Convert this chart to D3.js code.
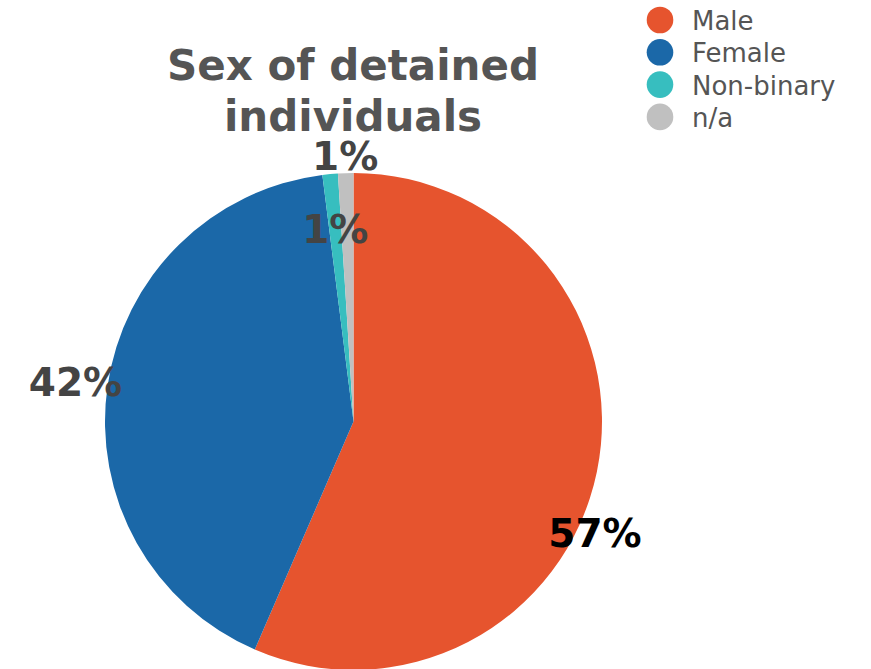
<!DOCTYPE html>
<html>
<head>
<meta charset="utf-8">
<script src="https://cdn.jsdelivr.net/npm/d3@7/dist/d3.min.js"></script>
<style>
  html, body { margin: 0; padding: 0; background: #fff; overflow: hidden; }
  svg { display: block; }
</style>
</head>
<body>
<svg id="chart" width="871" height="669"></svg>
<script>
// ---- data ----
const categories = ["Male", "Female", "Non-binary", "n/a"];
const values = [56.5, 41.5, 1.0, 1.0];
const labels = ["57%", "42%", "1%", "1%"];
const colors = ["#e6542e", "#1b68a8", "#37bebf", "#c0c0c0"];
const titleLines = ["Sex of detained", "individuals"];

// ---- layout ----
const W = 871, H = 669;
const cx = 353.5, cy = 421.5, R = 248.5;
// label placement: [fraction along slice angle, radius factor, colour]
const labelPlace = [
  [0.564, 1.07, "#000000"],
  [0.50, 1.13, "#444444"],
  [0.50, 0.78, "#444444"],
  [0.50, 1.07, "#444444"]
];

const svg = d3.select("#chart");

const pie = d3.pie().sort(null).value(d => d.v);
const arcs = pie(categories.map((c, i) => ({ c, v: values[i], i })));
const arc = d3.arc().innerRadius(0).outerRadius(R);

const g = svg.append("g").attr("transform", `translate(${cx},${cy})`);
g.selectAll("path.slice").data(arcs).join("path")
  .attr("class", "slice")
  .attr("d", arc)
  .attr("fill", d => colors[d.data.i]);

g.selectAll("text.lbl").data(arcs).join("text")
  .attr("class", "lbl")
  .each(function(d) {
    const p = labelPlace[d.data.i];
    const a = d.startAngle + (d.endAngle - d.startAngle) * p[0];
    const r = R * p[1];
    d3.select(this)
      .attr("x", Math.sin(a) * r)
      .attr("y", -Math.cos(a) * r)
      .attr("fill", p[2]);
  })
  .attr("text-anchor", "middle")
  .attr("dy", "0.36em")
  .style("font-family", "'DejaVu Sans', Verdana, sans-serif")
  .style("font-weight", "bold")
  .style("font-size", "39px")
  .text(d => labels[d.data.i]);

// title
svg.append("text")
  .attr("text-anchor", "middle")
  .style("font-family", "'DejaVu Sans', Verdana, sans-serif")
  .style("font-weight", "bold")
  .style("font-size", "42px")
  .attr("fill", "#555555")
  .selectAll("tspan").data(titleLines).join("tspan")
  .attr("x", 353)
  .attr("y", (d, i) => 80 + i * 51)
  .text(d => d);

// legend
const leg = svg.append("g").attr("transform", "translate(660,20)");
const item = leg.selectAll("g").data(categories).join("g")
  .attr("transform", (d, i) => `translate(0,${i * 32.3})`);
item.append("circle").attr("r", 13.3).attr("fill", (d, i) => colors[i]);
item.append("text")
  .attr("x", 32)
  .attr("y", 10)
  .style("font-family", "'DejaVu Sans', Verdana, sans-serif")
  .style("font-size", "26px")
  .attr("fill", "#555555")
  .text(d => d);
</script>
</body>
</html>
